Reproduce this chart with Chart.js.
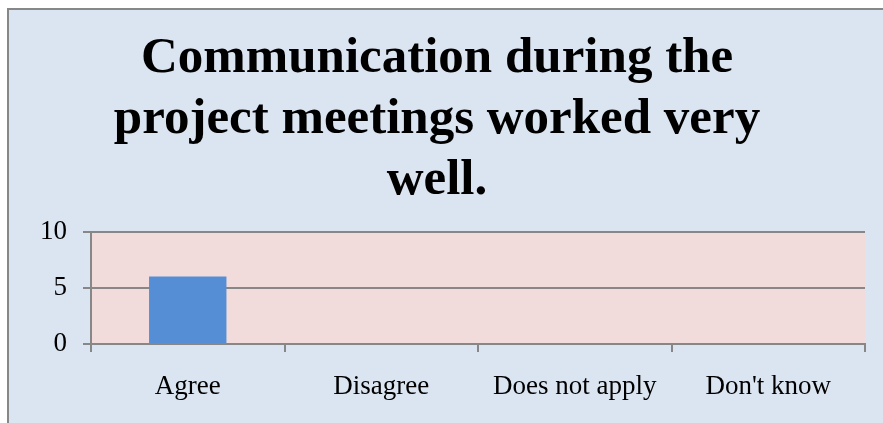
<!DOCTYPE html>
<html>
<head>
<meta charset="utf-8">
<script src="https://cdn.jsdelivr.net/npm/chart.js@4"></script>
<style>
  html, body { margin: 0; padding: 0; background: #ffffff; overflow: hidden; }
  #frame {
    position: absolute; left: 7px; top: 8px;
    width: 876px; height: 415px;
    border-left: 2px solid #878787; border-top: 2px solid #878787;
    background: #dbe5f1;
  }
  #wrap { position: absolute; left: 0; top: 0; width: 874px; height: 413px; }
</style>
</head>
<body>
<div id="frame"><div id="wrap"><canvas id="chart"></canvas></div></div>
<script>
// 回答カテゴリーと件数
const categories = ['Agree', 'Disagree', 'Does not apply', "Don't know"];
const counts = [6, 0, 0, 0];
const yTicks = [0, 5, 10];
const titleLines = ['Communication during the', 'project meetings worked very', 'well.'];

// プロット領域だけピンクで塗る
const plotBg = {
    id: 'plotBg',
    beforeDraw(chart) {
        const a = chart.chartArea;
        const ctx = chart.ctx;
        ctx.save();
        ctx.fillStyle = '#f2dcdb';
        ctx.fillRect(a.left, a.top, a.right - a.left, a.bottom - a.top);
        ctx.restore();
    }
};

const ctx = document.getElementById('chart');
new Chart(ctx, {
    type: 'bar',
    data: {
        labels: categories,
        datasets: [{
            data: counts,
            backgroundColor: '#558ed5',
            barPercentage: 0.4,
            categoryPercentage: 1.0
        }]
    },
    plugins: [plotBg],
    options: {
        responsive: true,
        maintainAspectRatio: false,
        animation: false,
        layout: { padding: { left: 0, right: 18, top: 0, bottom: 0 } },
        plugins: {
            legend: { display: false },
            tooltip: { enabled: false },
            title: {
                display: true,
                text: titleLines,
                color: '#000000',
                font: { family: '"Liberation Serif", serif', size: 51, weight: 'bold', lineHeight: 1.2 },
                padding: { top: 18, bottom: 20 }
            }
        },
        scales: {
            x: {
                offset: true,
                grid: { offset: true, drawOnChartArea: false, color: '#878787', lineWidth: 2, tickLength: 8 },
                border: { color: '#878787', width: 2 },
                ticks: { color: '#000000', padding: 19, font: { family: '"Liberation Serif", serif', size: 27 } },
                afterFit(scale) { scale.height = 79; }
            },
            y: {
                min: 0,
                max: 10,
                afterBuildTicks(scale) { scale.ticks = yTicks.map(v => ({ value: v })); },
                grid: { color: '#878787', lineWidth: 2, tickLength: 8 },
                border: { color: '#878787', width: 2 },
                ticks: { color: '#000000', padding: 16, font: { family: '"Liberation Serif", serif', size: 27 } },
                afterFit(scale) { scale.width = 82; }
            }
        }
    }
});
</script>
</body>
</html>
